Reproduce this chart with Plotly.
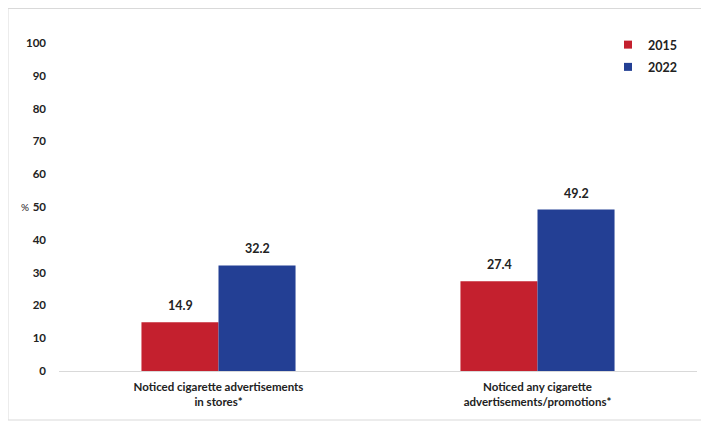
import plotly.graph_objects as go

categories = ["Noticed cigarette advertisements<br>in stores*",
              "Noticed any cigarette<br>advertisements/promotions*"]
years = ["2015", "2022"]
values_2015 = [14.9, 27.4]
values_2022 = [32.2, 49.2]
colors = ["#C4202E", "#233F94"]
tick_vals = [0, 10, 20, 30, 40, 50, 60, 70, 80, 90, 100]

# the page adds an 8px body margin, so the figure is drawn 8px smaller
W, H = 701, 416
ml, mr, mt, mb = 51, 12, 35, 53
font = "Lato, 'Open Sans', sans-serif"
tc = "#222222"

fig = go.Figure()
for name, vals, c in zip(years, [values_2015, values_2022], colors):
    fig.add_trace(go.Bar(
        x=categories, y=vals, name=name, marker_color=c,
        marker_line_width=0, cliponaxis=False, showlegend=False,
    ))
# legend entries with small square swatches
for name, c in zip(years, colors):
    fig.add_trace(go.Scatter(x=[None], y=[None], mode="markers", name=name,
                             legendgroup=name,
                             marker=dict(symbol="square", size=8, color=c)))

pw = W - ml - mr
ph = H - mt - mb

annots = []
for vals, sh in zip([values_2015, values_2022], [-38.5, 38.5]):
    for cat, v in zip(categories, vals):
        annots.append(dict(x=cat, y=v, xref="x", yref="y", text=f"<b>{v:.1f}</b>",
                           showarrow=False, xshift=sh, yshift=7, yanchor="bottom",
                           font=dict(family=font, size=12.5, color=tc)))
annots.append(dict(text="%", x=(11 - ml) / pw, y=50, xref="paper", yref="y",
                   showarrow=False, font=dict(family=font, size=10, color=tc)))

fig.update_layout(
    width=W, height=H,
    margin=dict(l=ml, r=mr, t=mt, b=mb, autoexpand=False),
    paper_bgcolor="white", plot_bgcolor="white",
    barmode="group", bargap=0.517, bargroupgap=0,
    font=dict(family=font, size=12, color=tc),
    showlegend=True,
    legend=dict(x=(600 - ml) / pw, y=1.0 + 13 / ph, xanchor="left", yanchor="top",
                font=dict(family=font, size=12.5, color=tc, weight="bold"),
                itemwidth=30, tracegroupgap=3, bgcolor="rgba(0,0,0,0)"),
    xaxis=dict(showgrid=False, showline=True, linecolor="#D9D9D9", linewidth=1,
               ticks="", ticklabelstandoff=5,
               tickfont=dict(family=font, size=11.5, weight="bold", color=tc)),
    yaxis=dict(range=[0, 100], tickvals=tick_vals, showgrid=False, zeroline=False,
               showline=False, ticks="", ticklabelstandoff=12,
               tickfont=dict(family=font, size=11.5, weight="bold", color=tc)),
    annotations=annots,
    shapes=[dict(type="rect", xref="paper", yref="paper",
                 x0=(0 - ml) / pw, x1=(695 - ml) / pw,
                 y0=(H - mb - 412) / ph, y1=(H - mb - 0.5) / ph,
                 line=dict(color="#D9D9D9", width=1), layer="below")],
)
fig.write_html("out.html")
